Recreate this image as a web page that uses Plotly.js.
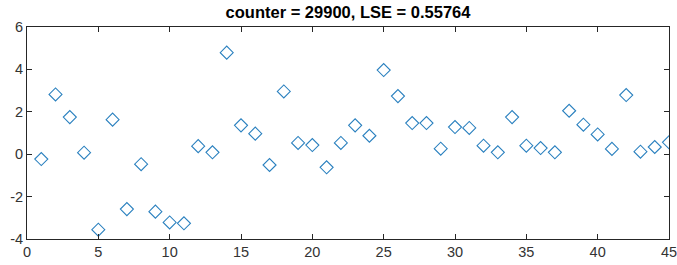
<!DOCTYPE html>
<html><head><meta charset="utf-8">
<script src="https://cdn.plot.ly/plotly-3.0.1.min.js"></script>
<style>html,body{margin:0;padding:0;background:#fff}#c{width:677px;height:265px}</style>
</head><body><div id="c"></div>
<script>
const xVals = [1,2,3,4,5,6,7,8,9,10,11,12,13,14,15,16,17,18,19,20,21,22,23,24,25,26,27,28,29,30,31,32,33,34,35,36,37,38,39,40,41,42,43,44,45];
const yVals = [-0.23,2.82,1.75,0.07,-3.56,1.63,-2.59,-0.47,-2.71,-3.22,-3.26,0.38,0.09,4.79,1.36,0.97,-0.51,2.96,0.53,0.43,-0.62,0.53,1.36,0.87,3.97,2.74,1.47,1.47,0.26,1.28,1.24,0.4,0.09,1.75,0.4,0.29,0.09,2.05,1.39,0.93,0.25,2.79,0.12,0.34,0.56];
const titleText = 'counter = 29900, LSE = 0.55764';
const xTicks = [0,5,10,15,20,25,30,35,40,45];
const yTicks = [-4,-2,0,2,4,6];

const axisCommon = {
  showgrid:false, zeroline:false, showline:true, mirror:'ticks',
  linecolor:'#262626', linewidth:1, ticks:'inside', ticklen:5, tickwidth:1, tickcolor:'#262626',
  ticklabeloverflow:'allow',
  tickfont:{family:'Liberation Sans, Arial, sans-serif', size:14.5, color:'#333333'}
};
Plotly.newPlot('c', [{
  x:xVals, y:yVals, type:'scatter', mode:'markers',
  marker:{symbol:'diamond-open', size:10, color:'#2a80bf', line:{width:1.1, color:'#2a80bf'}}
}], {
  width:677, height:265,
  margin:{l:27, r:8, t:27, b:26},
  paper_bgcolor:'#fff', plot_bgcolor:'#fff',
  title:{text:'<b>'+titleText+'</b>', x:0.5, xref:'paper', y:1, yref:'paper', yanchor:'bottom', pad:{b:9},
    font:{family:'Liberation Sans, Arial, sans-serif', size:16.5, color:'#000'}},
  xaxis:Object.assign({}, axisCommon, {range:[0,45], tickvals:xTicks, ticktext:xTicks.map(String)}),
  yaxis:Object.assign({}, axisCommon, {range:[-4,6], tickvals:yTicks, ticktext:yTicks.map(String)}),
  showlegend:false
}, {staticPlot:true, displayModeBar:false});
</script></body></html>
